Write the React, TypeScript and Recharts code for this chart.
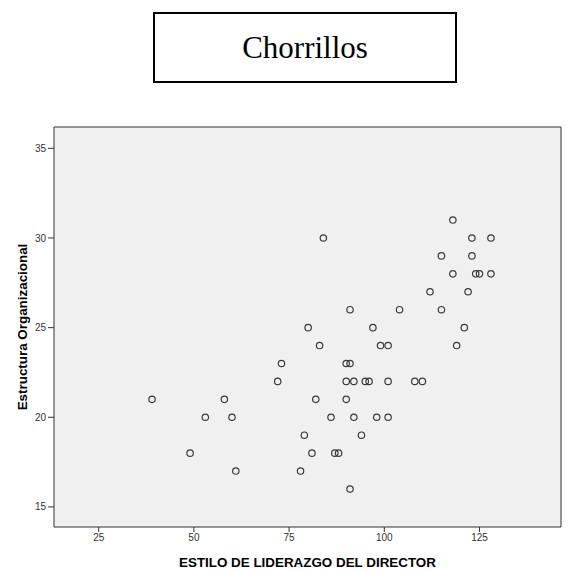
import React from "react"
import {
  ScatterChart,
  Scatter,
  XAxis,
  YAxis,
  CartesianGrid,
  ReferenceLine
} from "recharts"

// ESTILO DE LIDERAZGO DEL DIRECTOR (x) vs Estructura Organizacional (y)
const liderazgo = [
  118,
  84, 123, 128,
  115, 123,
  118, 124, 125, 128,
  112, 122,
  91, 104, 115,
  80, 97, 121,
  83, 99, 101, 119,
  73, 90, 91,
  72, 90, 92, 95, 96, 101, 108, 110,
  39, 58, 82, 90,
  53, 60, 86, 92, 98, 101,
  79, 94,
  49, 81, 87, 88,
  61, 78,
  91
]
const estructura = [
  31,
  30, 30, 30,
  29, 29,
  28, 28, 28, 28,
  27, 27,
  26, 26, 26,
  25, 25, 25,
  24, 24, 24, 24,
  23, 23, 23,
  22, 22, 22, 22, 22, 22, 22, 22,
  21, 21, 21, 21,
  20, 20, 20, 20, 20, 20,
  19, 19,
  18, 18, 18, 18,
  17, 17,
  16
]
const xTicks = [25, 50, 75, 100, 125]
const yTicks = [15, 20, 25, 30, 35]
const xDomain = [13.26, 146.4]
const yDomain = [13.88, 36.19]

const title = "Chorrillos"
const xLabel = "ESTILO DE LIDERAZGO DEL DIRECTOR"
const yLabel = "Estructura Organizacional"

const font = "'Liberation Sans', Arial, sans-serif"

export default function App() {
  const data = liderazgo.map((x, i) => ({ x, y: estructura[i] }))

  return (
    <div style={{ position: "absolute", left: 0, top: 0, width: 569, height: 572, background: "#fff" }}>
      <div
        style={{
          position: "absolute",
          left: 153,
          top: 12,
          width: 304,
          height: 71,
          boxSizing: "border-box",
          border: "2px solid #000",
          display: "flex",
          alignItems: "center",
          justifyContent: "center",
          fontFamily: "'Liberation Serif', 'Times New Roman', serif",
          fontSize: 31,
          color: "#000"
        }}
      >
        {title}
      </div>
      <ScatterChart
        width={569}
        height={572}
        margin={{ top: 127, right: 8, bottom: 0, left: 0 }}
        style={{ position: "absolute", left: 0, top: 0 }}
      >
        <CartesianGrid fill="#f0f0f0" horizontal={false} vertical={false} />
        <XAxis
          type="number"
          dataKey="x"
          domain={xDomain}
          ticks={xTicks}
          allowDataOverflow
          height={45}
          tickSize={5}
          stroke="#333"
          tick={{ fontSize: 10, fill: "#333", fontFamily: font }}
          label={({ viewBox }: any) => (
            <text
              x={viewBox.x + viewBox.width / 2}
              y={viewBox.y + 40}
              textAnchor="middle"
              fontFamily={font}
              fontWeight="bold"
              fontSize={13.4}
              fill="#000"
            >
              {xLabel}
            </text>
          )}
        />
        <YAxis
          type="number"
          dataKey="y"
          domain={yDomain}
          ticks={yTicks}
          allowDataOverflow
          width={54}
          tickSize={6}
          stroke="#333"
          tick={{ fontSize: 10, fill: "#333", fontFamily: font }}
          label={({ viewBox }: any) => {
            const cx = viewBox.x + 22
            const cy = viewBox.y + viewBox.height / 2
            return (
              <text
                x={cx}
                y={cy}
                transform={`rotate(-90 ${cx} ${cy})`}
                textAnchor="middle"
                dominantBaseline="central"
                fontFamily={font}
                fontWeight="bold"
                fontSize={13.4}
                fill="#000"
              >
                {yLabel}
              </text>
            )
          }}
        />
        {/* top and right frame of the plot box */}
        <ReferenceLine y={yDomain[1]} stroke="#333" strokeWidth={1} ifOverflow="visible" />
        <ReferenceLine x={xDomain[1]} stroke="#333" strokeWidth={1} ifOverflow="visible" />
        <Scatter
          data={data}
          isAnimationActive={false}
          shape={(p: any) => (
            <circle cx={p.cx} cy={p.cy} r={3.2} fill="none" stroke="#3a3a3a" strokeWidth={1.2} />
          )}
        />
      </ScatterChart>
    </div>
  )
}
